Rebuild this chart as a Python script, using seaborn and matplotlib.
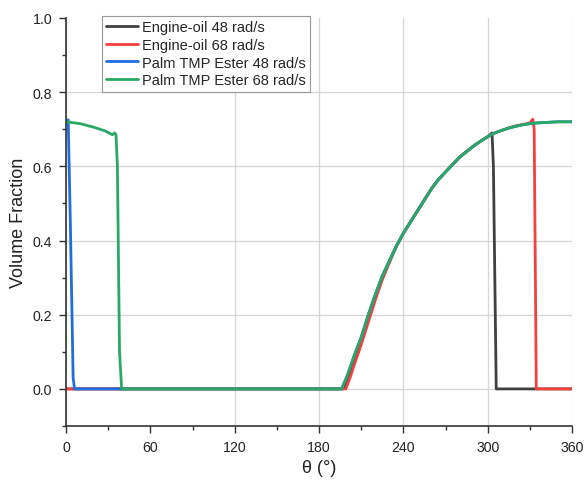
import matplotlib
matplotlib.use("Agg")
import matplotlib.pyplot as plt
import pandas as pd
import seaborn as sns
from matplotlib.ticker import MultipleLocator

# values (theta in degrees, volume fraction)
eo48_theta = [0, 197, 200, 205, 208, 210, 215, 220, 225, 230, 235, 240, 245, 250, 255, 260,
              265, 270, 275, 280, 285, 290, 295, 300, 303, 304, 306, 360]
eo48_vf = [0, 0, 0.025, 0.08, 0.10, 0.13, 0.19, 0.245, 0.30, 0.345, 0.385, 0.42, 0.45, 0.48,
           0.51, 0.54, 0.565, 0.585, 0.605, 0.625, 0.64, 0.655, 0.668, 0.68, 0.69, 0.60, 0, 0]

eo68_theta = [0, 199, 202, 205, 210, 215, 220, 225, 230, 235, 240, 245, 250, 255, 260, 265,
              270, 275, 280, 285, 290, 295, 300, 305, 310, 315, 320, 325, 330, 332, 333, 334.5, 360]
eo68_vf = [0, 0, 0.03, 0.065, 0.12, 0.18, 0.24, 0.295, 0.34, 0.385, 0.42, 0.45, 0.48, 0.51,
           0.54, 0.565, 0.585, 0.605, 0.625, 0.64, 0.655, 0.668, 0.68, 0.69, 0.697, 0.704,
           0.709, 0.713, 0.717, 0.727, 0.70, 0, 0]

pt48_theta = [0, 1.5, 3, 5, 6, 196, 200, 205, 210, 215, 220, 225, 230, 235, 240, 245, 250,
              255, 260, 265, 270, 275, 280, 285, 290, 295, 300, 305, 310, 315, 320, 325, 330,
              335, 340, 350, 360]
pt48_vf = [0.725, 0.725, 0.45, 0.03, 0, 0, 0.035, 0.09, 0.14, 0.20, 0.255, 0.305, 0.345, 0.385,
           0.42, 0.45, 0.48, 0.51, 0.54, 0.565, 0.585, 0.605, 0.625, 0.64, 0.655, 0.668, 0.68,
           0.69, 0.697, 0.703, 0.708, 0.712, 0.715, 0.717, 0.718, 0.72, 0.72]

pt68_theta = [0, 10, 20, 28, 33, 34.5, 35.5, 36.5, 38, 39.5, 196, 200, 205, 210, 215, 220, 225,
              230, 235, 240, 245, 250, 255, 260, 265, 270, 275, 280, 285, 290, 295, 300, 305,
              310, 315, 320, 325, 330, 335, 340, 350, 360]
pt68_vf = [0.72, 0.715, 0.705, 0.695, 0.685, 0.69, 0.685, 0.60, 0.10, 0, 0, 0.035, 0.09, 0.14,
           0.20, 0.255, 0.305, 0.345, 0.385, 0.42, 0.45, 0.48, 0.51, 0.54, 0.565, 0.585, 0.605,
           0.625, 0.64, 0.655, 0.668, 0.68, 0.69, 0.697, 0.703, 0.708, 0.712, 0.715, 0.717,
           0.718, 0.72, 0.72]

series_names = ["Engine-oil 48 rad/s", "Engine-oil 68 rad/s",
                "Palm TMP Ester 48 rad/s", "Palm TMP Ester 68 rad/s"]
colors = ["#404040", "#f5403f", "#1f6ddf", "#2aa865"]

frames = []
for name, th, vf in zip(series_names,
                        [eo48_theta, eo68_theta, pt48_theta, pt68_theta],
                        [eo48_vf, eo68_vf, pt48_vf, pt68_vf]):
    frames.append(pd.DataFrame({"theta": th, "vf": vf, "series": name}))
df = pd.concat(frames, ignore_index=True)

sns.set_style("white")
plt.rcParams['font.family'] = ['Liberation Sans', 'DejaVu Sans']

fig = plt.figure(figsize=(5.85, 4.85), dpi=100)
ax = fig.add_axes([0.113, 0.1196, 0.865, 0.8414])

sns.lineplot(data=df, x="theta", y="vf", hue="series", hue_order=series_names,
             palette=colors, linewidth=2, sort=False, estimator=None, ax=ax)

ax.set_xlim(0, 360)
ax.set_ylim(-0.1, 1.0)
ax.set_xticks([0, 60, 120, 180, 240, 300, 360])
ax.set_yticks([0.0, 0.2, 0.4, 0.6, 0.8, 1.0])
ax.set_yticklabels(["0.0", "0.2", "0.4", "0.6", "0.8", "1.0"])
ax.xaxis.set_minor_locator(MultipleLocator(30))
ax.yaxis.set_minor_locator(MultipleLocator(0.1))
ax.tick_params(which="major", direction="out", length=5, width=1, colors="#333333",
               labelsize=10.2, labelcolor="#222222", bottom=True, left=True, pad=5)
ax.tick_params(which="minor", direction="out", length=3, width=1, colors="#333333",
               bottom=True, left=True)

ax.grid(True, which="major", color="#d6d6d6", linewidth=0.9)
ax.set_axisbelow(True)
for t in ax.xaxis.get_major_ticks():
    if t.get_loc() in (0, 360):
        t.gridline.set_visible(False)
for t in ax.yaxis.get_major_ticks():
    if abs(t.get_loc() - 1.0) < 1e-6:
        t.gridline.set_visible(False)

for side in ["top", "right"]:
    ax.spines[side].set_visible(False)
for side in ["left", "bottom"]:
    ax.spines[side].set_color("#333333")
    ax.spines[side].set_linewidth(1.2)

ax.set_xlabel("θ (°)", fontsize=13, color="#222222", labelpad=4)
ax.set_ylabel("Volume Fraction", fontsize=13, color="#222222", labelpad=4)

leg = ax.legend(loc="upper left", bbox_to_anchor=(0.07, 1.005), fontsize=10.5,
                frameon=True, fancybox=False, edgecolor="#999999", framealpha=1,
                borderpad=0.3, labelspacing=0.25, handlelength=2.2, handletextpad=0.3,
                borderaxespad=0)
leg.get_frame().set_linewidth(0.8)
for line in leg.get_lines():
    line.set_linewidth(2)

fig.savefig("out.png", dpi=100)
